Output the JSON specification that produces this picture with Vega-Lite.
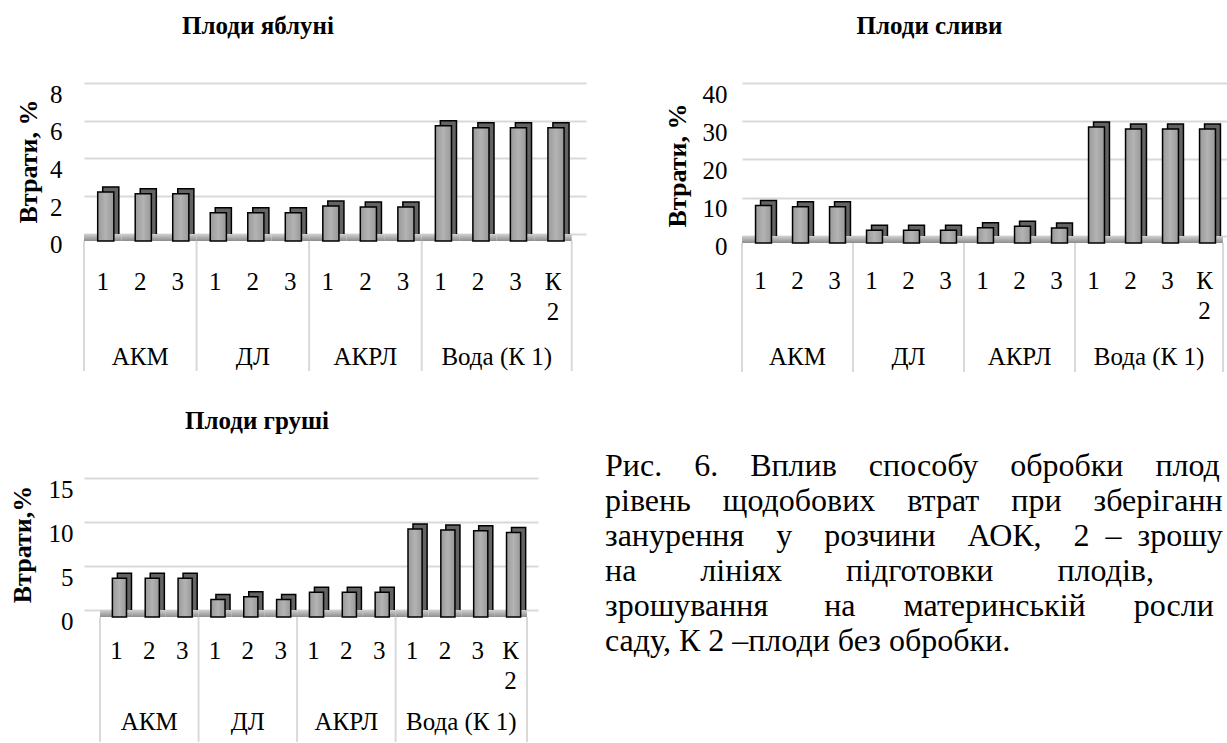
{
  "$schema": "https://vega.github.io/schema/vega-lite/v6.json",
  "padding": {"left": 9, "top": 14, "right": 0, "bottom": 0},
  "background": "white",
  "config": {
    "view": {"stroke": null},
    "font": "Liberation Serif",
    "text": {"font": "Liberation Serif", "color": "#000000"},
    "title": {"font": "Liberation Serif", "fontSize": 25, "fontWeight": "bold", "color": "#000000", "anchor": "middle"},
    "axis": {"labelFont": "Liberation Serif", "titleFont": "Liberation Serif", "labelColor": "#000000", "titleColor": "#000000"}
  },
  "datasets": {
    "apple": [
      {"group": "АКМ", "sub": "1", "v": 2.6}, {"group": "АКМ", "sub": "2", "v": 2.5}, {"group": "АКМ", "sub": "3", "v": 2.5},
      {"group": "ДЛ", "sub": "1", "v": 1.5}, {"group": "ДЛ", "sub": "2", "v": 1.5}, {"group": "ДЛ", "sub": "3", "v": 1.5},
      {"group": "АКРЛ", "sub": "1", "v": 1.85}, {"group": "АКРЛ", "sub": "2", "v": 1.8}, {"group": "АКРЛ", "sub": "3", "v": 1.8},
      {"group": "Вода (К 1)", "sub": "1", "v": 6.1}, {"group": "Вода (К 1)", "sub": "2", "v": 6.0}, {"group": "Вода (К 1)", "sub": "3", "v": 6.0}, {"group": "Вода (К 1)", "sub": "К\n2", "v": 6.0}
    ],
    "plum": [
      {"group": "АКМ", "sub": "1", "v": 9.8}, {"group": "АКМ", "sub": "2", "v": 9.5}, {"group": "АКМ", "sub": "3", "v": 9.5},
      {"group": "ДЛ", "sub": "1", "v": 3.3}, {"group": "ДЛ", "sub": "2", "v": 3.3}, {"group": "ДЛ", "sub": "3", "v": 3.3},
      {"group": "АКРЛ", "sub": "1", "v": 4.0}, {"group": "АКРЛ", "sub": "2", "v": 4.4}, {"group": "АКРЛ", "sub": "3", "v": 3.9},
      {"group": "Вода (К 1)", "sub": "1", "v": 30.3}, {"group": "Вода (К 1)", "sub": "2", "v": 29.8}, {"group": "Вода (К 1)", "sub": "3", "v": 29.8}, {"group": "Вода (К 1)", "sub": "К\n2", "v": 29.8}
    ],
    "pear": [
      {"group": "АКМ", "sub": "1", "v": 4.4}, {"group": "АКМ", "sub": "2", "v": 4.4}, {"group": "АКМ", "sub": "3", "v": 4.4},
      {"group": "ДЛ", "sub": "1", "v": 2.0}, {"group": "ДЛ", "sub": "2", "v": 2.3}, {"group": "ДЛ", "sub": "3", "v": 2.0},
      {"group": "АКРЛ", "sub": "1", "v": 2.8}, {"group": "АКРЛ", "sub": "2", "v": 2.8}, {"group": "АКРЛ", "sub": "3", "v": 2.8},
      {"group": "Вода (К 1)", "sub": "1", "v": 10.0}, {"group": "Вода (К 1)", "sub": "2", "v": 9.9}, {"group": "Вода (К 1)", "sub": "3", "v": 9.8}, {"group": "Вода (К 1)", "sub": "К\n2", "v": 9.6}
    ],
    "caption": [
      {"n": 1, "line": "Рис. \u00a0\u00a0\u00a06. \u00a0\u00a0\u00a0Вплив \u00a0\u00a0\u00a0способу \u00a0\u00a0\u00a0обробки \u00a0\u00a0\u00a0плодів"},
      {"n": 2, "line": "рівень \u00a0\u00a0\u00a0щодобових \u00a0\u00a0\u00a0втрат \u00a0\u00a0\u00a0при \u00a0\u00a0\u00a0зберіганні"},
      {"n": 3, "line": "занурення \u00a0\u00a0\u00a0у \u00a0\u00a0\u00a0розчини \u00a0\u00a0\u00a0АОК, \u00a0\u00a0\u00a02 \u00a0– \u00a0зрошування"},
      {"n": 4, "line": "на \u00a0\u00a0\u00a0\u00a0\u00a0\u00a0\u00a0лініях \u00a0\u00a0\u00a0\u00a0\u00a0\u00a0\u00a0підготовки \u00a0\u00a0\u00a0\u00a0\u00a0\u00a0\u00a0плодів,"},
      {"n": 5, "line": "зрошування \u00a0\u00a0\u00a0\u00a0\u00a0\u00a0на \u00a0\u00a0\u00a0\u00a0\u00a0материнській \u00a0\u00a0\u00a0\u00a0\u00a0рослині"},
      {"n": 6, "line": "саду, К 2 –плоди без обробки."}
    ]
  },
  "columns": 1,
  "align": "none",
  "spacing": 36,
  "concat": [
    {
      "bounds": "flush",
      "spacing": 156,
      "hconcat": [
        {
          "width": 502, "height": 288,
          "title": {"text": "Плоди яблуні", "dx": -77, "offset": 43},
          "data": {"name": "apple"},
          "transform": [{"calculate": "datum.group + '|' + datum.sub", "as": "key"}],
          "encoding": {
            "x": {"field": "key", "type": "nominal", "sort": null, "axis": null,
                  "scale": {"paddingInner": 0, "paddingOuter": 0.19, "align": 0}}
          },
          "layer": [
            {
              "mark": {"type": "bar", "width": {"band": 0.43}, "xOffset": 8, "yOffset": 2, "y2Offset": 2, "color": "#636363", "stroke": "#000000", "strokeWidth": 1.5},
              "encoding": {"y": {"field": "v", "type": "quantitative", "title": "Втрати, %", "scale": {"domain": [-7.26, 8], "nice": false, "zero": false},
                      "axis": {"values": [0, 2, 4, 6, 8], "grid": true, "gridColor": "#d9d9d9", "gridWidth": 2, "domain": false, "ticks": false,
                               "labelFontSize": 25, "labelPadding": 22, "labelOffset": 11,
                               "title": "Втрати, %", "titleFontSize": 26, "titleFontWeight": "bold", "titleAngle": 270,
                               "titleAlign": "center", "titleBaseline": "middle", "titleX": -56, "titleY": 78}}}
            },
            {
              "mark": {"type": "rect", "color": {"x1": 0, "y1": 0, "x2": 0, "y2": 1, "gradient": "linear", "stops": [{"offset": 0, "color": "#d0d0d0"}, {"offset": 1, "color": "#8c8c8c"}]}},
              "encoding": {"y": {"datum": 0, "type": "quantitative", "title": "Втрати, %"}, "y2": {"datum": -0.37}}
            },
            {
              "mark": {"type": "bar", "width": {"band": 0.43}, "xOffset": 3, "yOffset": 7, "y2Offset": 7, "stroke": "#000000", "strokeWidth": 1.5,
                       "color": {"x1": 0, "y1": 0, "x2": 1, "y2": 0, "gradient": "linear", "stops": [{"offset": 0, "color": "#9a9a9a"}, {"offset": 0.5, "color": "#b3b3b3"}, {"offset": 1, "color": "#989898"}]}},
              "encoding": {"y": {"field": "v", "type": "quantitative", "title": "Втрати, %"}}
            },
            {
              "transform": [{"filter": "datum.sub == '1'"}],
              "mark": {"type": "rule", "color": "#d9d9d9", "strokeWidth": 2},
              "encoding": {
                "x": {"field": "key", "type": "nominal", "bandPosition": 0, "axis": null},
                "y": {"datum": -0.37, "type": "quantitative", "title": "Втрати, %"}, "y2": {"datum": -7.26}
              }
            },
            {
              "transform": [{"filter": "indexof(datum.sub, 'К') == 0"}],
              "mark": {"type": "rule", "color": "#d9d9d9", "strokeWidth": 2},
              "encoding": {
                "x": {"field": "key", "type": "nominal", "bandPosition": 1, "axis": null},
                "y": {"datum": -0.37, "type": "quantitative", "title": "Втрати, %"}, "y2": {"datum": -7.26}
              }
            },
            {
              "mark": {"type": "text", "fontSize": 25, "baseline": "top", "lineBreak": "\n", "lineHeight": 30},
              "encoding": {"y": {"datum": -1.9, "type": "quantitative", "title": "Втрати, %"}, "text": {"field": "sub"}}
            },
            {
              "transform": [{"filter": "datum.sub == '2' && datum.group != 'Вода (К 1)'"}],
              "mark": {"type": "text", "fontSize": 25, "baseline": "middle"},
              "encoding": {"x": {"field": "key", "type": "nominal", "bandPosition": 0.5, "axis": null}, "y": {"datum": -6.52, "type": "quantitative", "title": "Втрати, %"}, "text": {"field": "group"}}
            },
            {
              "transform": [{"filter": "datum.sub == '3' && datum.group == 'Вода (К 1)'"}],
              "mark": {"type": "text", "fontSize": 25, "baseline": "middle"},
              "encoding": {"x": {"field": "key", "type": "nominal", "bandPosition": 0, "axis": null}, "y": {"datum": -6.52, "type": "quantitative", "title": "Втрати, %"}, "text": {"field": "group"}}
            }
          ]
        },
        {
          "width": 485, "height": 289,
          "title": {"text": "Плоди сливи", "dx": -55, "offset": 43},
          "data": {"name": "plum"},
          "transform": [{"calculate": "datum.group + '|' + datum.sub", "as": "key"}],
          "encoding": {
            "x": {"field": "key", "type": "nominal", "sort": null, "axis": null,
                  "scale": {"paddingInner": 0, "paddingOuter": 0.054, "align": 0}}
          },
          "layer": [
            {
              "mark": {"type": "bar", "width": {"band": 0.43}, "xOffset": 8, "yOffset": 2, "y2Offset": 2, "color": "#636363", "stroke": "#000000", "strokeWidth": 1.5},
              "encoding": {"y": {"field": "v", "type": "quantitative", "title": "Втрати, %", "scale": {"domain": [-35.56, 40], "nice": false, "zero": false},
                      "axis": {"values": [0, 10, 20, 30, 40], "grid": true, "gridColor": "#d9d9d9", "gridWidth": 2, "domain": false, "ticks": false,
                               "labelFontSize": 25, "labelPadding": 15, "labelOffset": 11,
                               "title": "Втрати, %", "titleFontSize": 26, "titleFontWeight": "bold", "titleAngle": 270,
                               "titleAlign": "center", "titleBaseline": "middle", "titleX": -65, "titleY": 82}}}
            },
            {
              "mark": {"type": "rect", "color": {"x1": 0, "y1": 0, "x2": 0, "y2": 1, "gradient": "linear", "stops": [{"offset": 0, "color": "#d0d0d0"}, {"offset": 1, "color": "#8c8c8c"}]}},
              "encoding": {"y": {"datum": 0, "type": "quantitative", "title": "Втрати, %"}, "y2": {"datum": -1.83}}
            },
            {
              "mark": {"type": "bar", "width": {"band": 0.43}, "xOffset": 3, "yOffset": 7, "y2Offset": 7, "stroke": "#000000", "strokeWidth": 1.5,
                       "color": {"x1": 0, "y1": 0, "x2": 1, "y2": 0, "gradient": "linear", "stops": [{"offset": 0, "color": "#9a9a9a"}, {"offset": 0.5, "color": "#b3b3b3"}, {"offset": 1, "color": "#989898"}]}},
              "encoding": {"y": {"field": "v", "type": "quantitative", "title": "Втрати, %"}}
            },
            {
              "transform": [{"filter": "datum.sub == '1'"}],
              "mark": {"type": "rule", "color": "#d9d9d9", "strokeWidth": 2},
              "encoding": {
                "x": {"field": "key", "type": "nominal", "bandPosition": 0, "axis": null},
                "y": {"datum": -1.83, "type": "quantitative", "title": "Втрати, %"}, "y2": {"datum": -35.56}
              }
            },
            {
              "transform": [{"filter": "indexof(datum.sub, 'К') == 0"}],
              "mark": {"type": "rule", "color": "#d9d9d9", "strokeWidth": 2},
              "encoding": {
                "x": {"field": "key", "type": "nominal", "bandPosition": 1, "axis": null},
                "y": {"datum": -1.83, "type": "quantitative", "title": "Втрати, %"}, "y2": {"datum": -35.56}
              }
            },
            {
              "mark": {"type": "text", "fontSize": 25, "baseline": "top", "lineBreak": "\n", "lineHeight": 30},
              "encoding": {"y": {"datum": -8.5, "type": "quantitative", "title": "Втрати, %"}, "text": {"field": "sub"}}
            },
            {
              "transform": [{"filter": "datum.sub == '2' && datum.group != 'Вода (К 1)'"}],
              "mark": {"type": "text", "fontSize": 25, "baseline": "middle"},
              "encoding": {"x": {"field": "key", "type": "nominal", "bandPosition": 0.5, "axis": null}, "y": {"datum": -31.6, "type": "quantitative", "title": "Втрати, %"}, "text": {"field": "group"}}
            },
            {
              "transform": [{"filter": "datum.sub == '3' && datum.group == 'Вода (К 1)'"}],
              "mark": {"type": "text", "fontSize": 25, "baseline": "middle"},
              "encoding": {"x": {"field": "key", "type": "nominal", "bandPosition": 0, "axis": null}, "y": {"datum": -31.6, "type": "quantitative", "title": "Втрати, %"}, "text": {"field": "group"}}
            }
          ]
        }
      ]
    },
    {
      "bounds": "flush",
      "spacing": 67,
      "hconcat": [
        {
          "width": 454, "height": 264,
          "title": {"text": "Плоди груші", "dx": -54, "offset": 43},
          "data": {"name": "pear"},
          "transform": [{"calculate": "datum.group + '|' + datum.sub", "as": "key"}],
          "encoding": {
            "x": {"field": "key", "type": "nominal", "sort": null, "axis": null,
                  "scale": {"paddingInner": 0, "paddingOuter": 0.411, "align": 0.593}}
          },
          "layer": [
            {
              "mark": {"type": "bar", "width": {"band": 0.43}, "xOffset": 8, "yOffset": 2, "y2Offset": 2, "color": "#636363", "stroke": "#000000", "strokeWidth": 1.5},
              "encoding": {"y": {"field": "v", "type": "quantitative", "title": "Втрати,%", "scale": {"domain": [-15, 15], "nice": false, "zero": false},
                      "axis": {"values": [0, 5, 10, 15], "grid": true, "gridColor": "#d9d9d9", "gridWidth": 2, "domain": false, "ticks": false,
                               "labelFontSize": 25, "labelPadding": 11, "labelOffset": 11,
                               "title": "Втрати,%", "titleFontSize": 26, "titleFontWeight": "bold", "titleAngle": 270,
                               "titleAlign": "center", "titleBaseline": "middle", "titleX": -62, "titleY": 66}}}
            },
            {
              "mark": {"type": "rect", "color": {"x1": 0, "y1": 0, "x2": 0, "y2": 1, "gradient": "linear", "stops": [{"offset": 0, "color": "#d0d0d0"}, {"offset": 1, "color": "#8c8c8c"}]}},
              "encoding": {"y": {"datum": 0, "type": "quantitative", "title": "Втрати,%"}, "y2": {"datum": -0.8}}
            },
            {
              "mark": {"type": "bar", "width": {"band": 0.43}, "xOffset": 3, "yOffset": 7, "y2Offset": 7, "stroke": "#000000", "strokeWidth": 1.5,
                       "color": {"x1": 0, "y1": 0, "x2": 1, "y2": 0, "gradient": "linear", "stops": [{"offset": 0, "color": "#9a9a9a"}, {"offset": 0.5, "color": "#b3b3b3"}, {"offset": 1, "color": "#989898"}]}},
              "encoding": {"y": {"field": "v", "type": "quantitative", "title": "Втрати,%"}}
            },
            {
              "transform": [{"filter": "datum.sub == '1'"}],
              "mark": {"type": "rule", "color": "#d9d9d9", "strokeWidth": 2},
              "encoding": {
                "x": {"field": "key", "type": "nominal", "bandPosition": 0, "axis": null},
                "y": {"datum": -0.8, "type": "quantitative", "title": "Втрати,%"}, "y2": {"datum": -15}
              }
            },
            {
              "transform": [{"filter": "indexof(datum.sub, 'К') == 0"}],
              "mark": {"type": "rule", "color": "#d9d9d9", "strokeWidth": 2},
              "encoding": {
                "x": {"field": "key", "type": "nominal", "bandPosition": 1, "axis": null},
                "y": {"datum": -0.8, "type": "quantitative", "title": "Втрати,%"}, "y2": {"datum": -15}
              }
            },
            {
              "mark": {"type": "text", "fontSize": 25, "baseline": "top", "lineBreak": "\n", "lineHeight": 30},
              "encoding": {"y": {"datum": -3.3, "type": "quantitative", "title": "Втрати,%"}, "text": {"field": "sub"}}
            },
            {
              "transform": [{"filter": "datum.sub == '2' && datum.group != 'Вода (К 1)'"}],
              "mark": {"type": "text", "fontSize": 25, "baseline": "middle"},
              "encoding": {"x": {"field": "key", "type": "nominal", "bandPosition": 0.5, "axis": null}, "y": {"datum": -12.7, "type": "quantitative", "title": "Втрати,%"}, "text": {"field": "group"}}
            },
            {
              "transform": [{"filter": "datum.sub == '3' && datum.group == 'Вода (К 1)'"}],
              "mark": {"type": "text", "fontSize": 25, "baseline": "middle"},
              "encoding": {"x": {"field": "key", "type": "nominal", "bandPosition": 0, "axis": null}, "y": {"datum": -12.7, "type": "quantitative", "title": "Втрати,%"}, "text": {"field": "group"}}
            }
          ]
        },
        {
          "width": 622, "height": 264,
          "data": {"name": "caption"},
          "mark": {"type": "text", "align": "left", "baseline": "middle", "fontSize": 32, "limit": 622, "ellipsis": "\u200b"},
          "encoding": {
            "x": {"datum": 0, "type": "quantitative", "scale": {"domain": [0, 1]}, "axis": null},
            "y": {"field": "n", "type": "quantitative", "scale": {"domain": [1.343, 8.886], "reverse": true, "nice": false, "zero": false}, "axis": null},
            "text": {"field": "line"}
          }
        }
      ]
    }
  ]
}
